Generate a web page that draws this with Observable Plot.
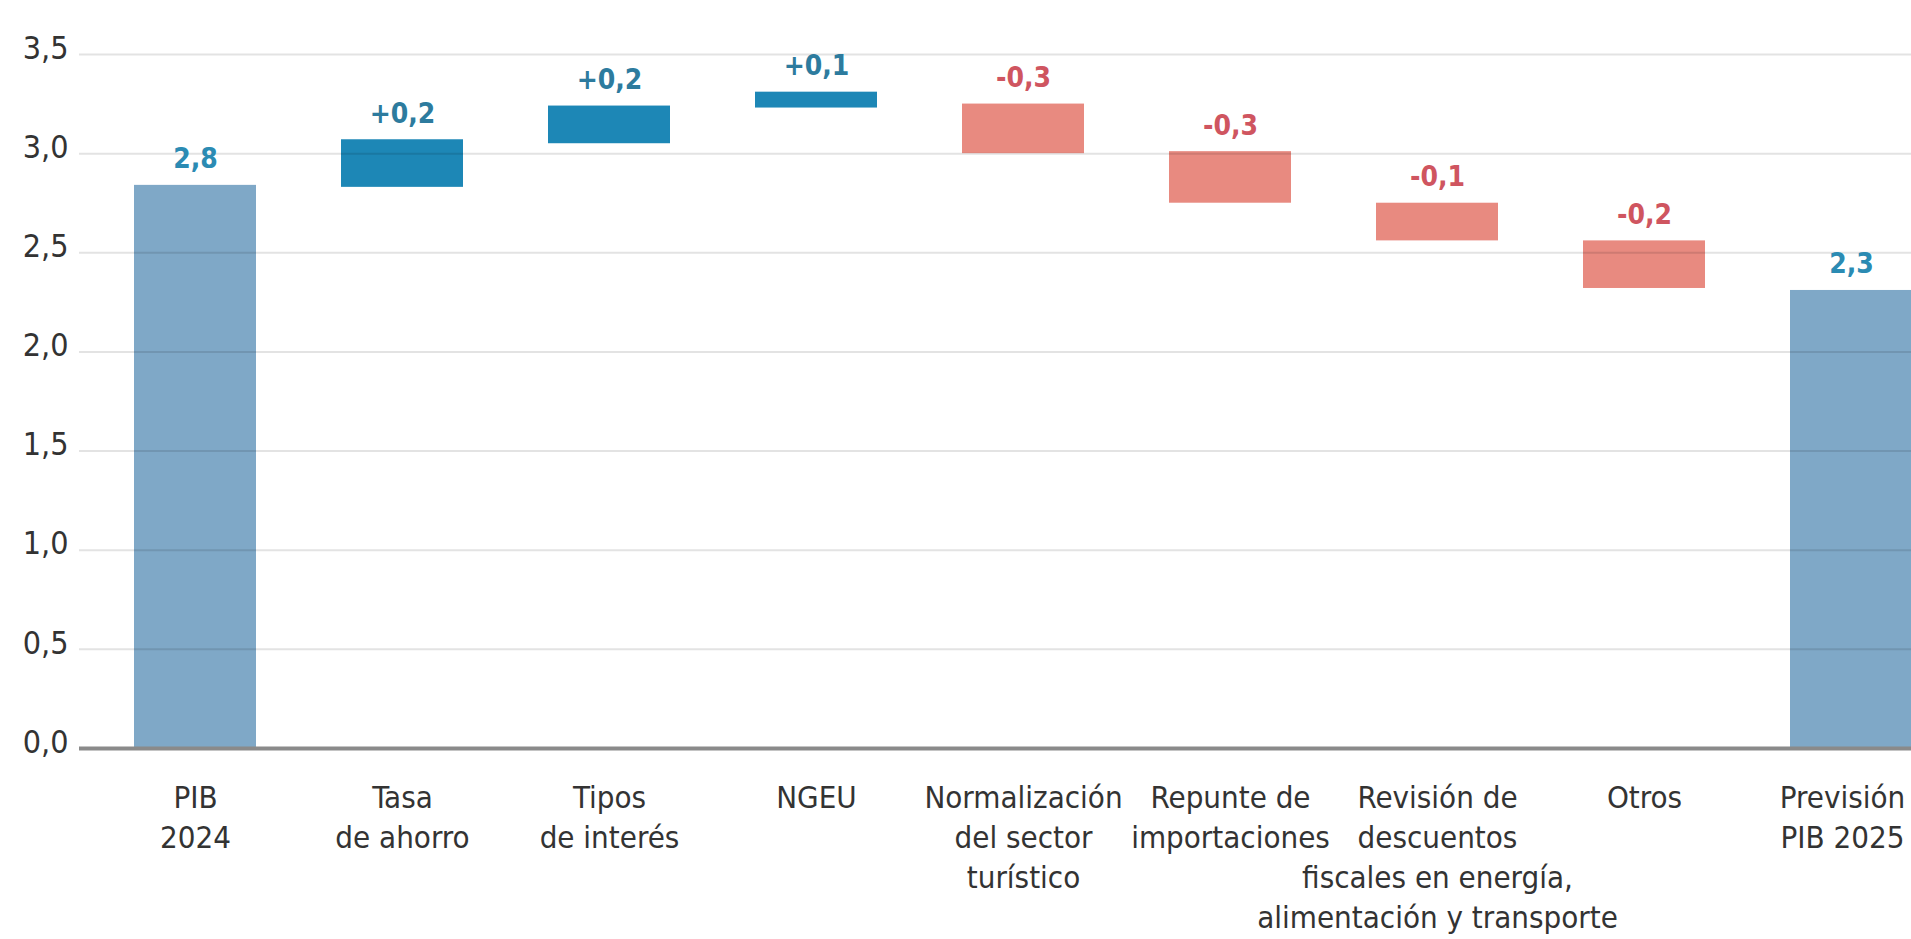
<!DOCTYPE html>
<html>
<head>
<meta charset="utf-8">
<script src="https://cdn.jsdelivr.net/npm/d3@7"></script>
<script src="https://cdn.jsdelivr.net/npm/@observablehq/plot@0.6"></script>
<style>
  html, body { margin: 0; padding: 0; background: #fff; }
  #chart svg { display: block; }
</style>
</head>
<body>
<div id="chart"></div>
<script>
// Categories (x axis labels, multi-line)
const categories = [
  "PIB\n2024",
  "Tasa\nde ahorro",
  "Tipos\nde interés",
  "NGEU",
  "Normalización\ndel sector\nturístico",
  "Repunte de\nimportaciones",
  "Revisión de\ndescuentos\nfiscales en energía,\nalimentación y transporte",
  "Otros",
  "Previsión\nPIB 2025"
];
// Bar start / end values
const barStart = [0, 2.83, 3.05, 3.23, 3.25, 3.01, 2.75, 2.56, 0];
const barEnd   = [2.84, 3.07, 3.24, 3.31, 3.00, 2.75, 2.56, 2.32, 2.31];
// Value labels
const valueLabels = ["2,8", "+0,2", "+0,2", "+0,1", "-0,3", "-0,3", "-0,1", "-0,2", "2,3"];
// Bar kind
const kinds = ["total", "up", "up", "up", "down", "down", "down", "down", "total"];
// Y ticks
const yTicks = [0, 0.5, 1, 1.5, 2, 2.5, 3, 3.5];

const data = categories.map((c, i) => ({
  cat: c,
  y1: barStart[i],
  y2: barEnd[i],
  top: Math.max(barStart[i], barEnd[i]),
  label: valueLabels[i],
  kind: kinds[i]
}));

const barColor = {total: "#7fa8c7", up: "#1d87b6", down: "#e88a80"};
const labelColor = {total: "#2b8bb3", up: "#2d7b9e", down: "#cf5560"};
const fmt = d => d.toFixed(1).replace(".", ",");

const xLabelOpts = {
  y: 0, text: d => d, lineAnchor: "top", textAnchor: "middle",
  fontSize: 31, lineHeight: 1.29, fill: "#333", dy: 31
};

const chart = Plot.plot({
  width: 1911,
  height: 939,
  marginLeft: 79,
  marginRight: 0,
  marginTop: 54,
  marginBottom: 191,
  style: {fontFamily: "'Liberation Sans Narrow', 'DejaVu Sans Condensed', sans-serif", background: "#fff"},
  x: {domain: categories, range: [49, 1997], padding: 0.41, label: null, axis: null},
  y: {domain: [0, 3.5], label: null},
  marks: [
    Plot.barY(data, {x: "cat", y1: "y1", y2: "y2", fill: d => barColor[d.kind]}),
    Plot.ruleY(yTicks.filter(t => t > 0), {stroke: "#000", strokeOpacity: 0.11, strokeWidth: 2}),
    Plot.ruleY([0], {stroke: "#8a8a8a", strokeWidth: 4}),
    Plot.text(data, {
      x: "cat", y: "top", text: "label",
      fill: d => labelColor[d.kind],
      fontSize: 28, fontWeight: "bold",
      lineAnchor: "bottom", dy: -17
    }),
    Plot.axisY({
      ticks: yTicks, tickFormat: fmt, tickSize: 0, tickPadding: 11,
      dy: -6, fontSize: 32, fill: "#333", label: null
    }),
    Plot.text(categories.slice(0, -1), {...xLabelOpts, x: d => d}),
    Plot.text(categories.slice(-1), {...xLabelOpts, x: d => d, dx: -9})
  ]
});
document.getElementById("chart").appendChild(chart);
</script>
</body>
</html>
